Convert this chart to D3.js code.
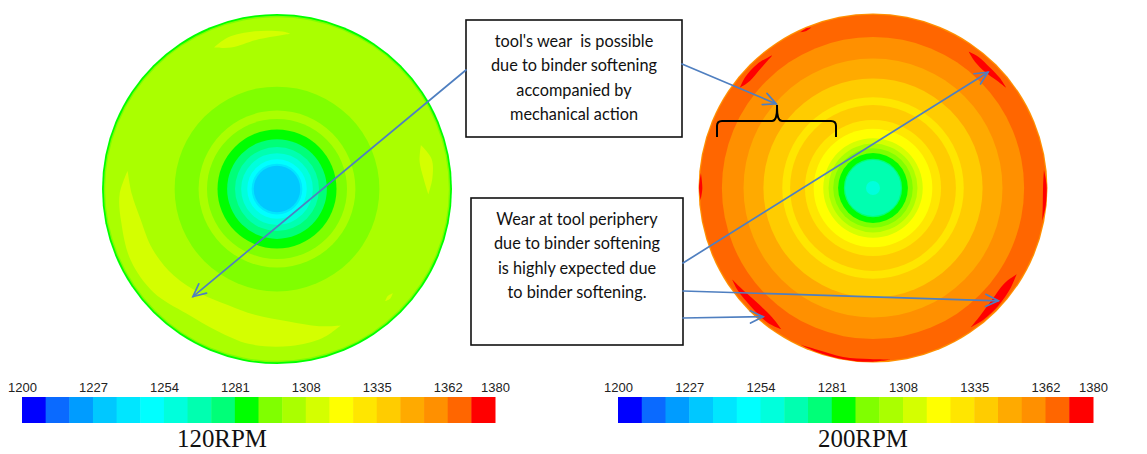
<!DOCTYPE html>
<html>
<head>
<meta charset="utf-8">
<script src="https://cdn.jsdelivr.net/npm/d3@7"></script>
<style>
  body { margin: 0; background: #fff; }
  svg { display: block; }
</style>
</head>
<body>
<div id="chart"></div>
<script>
// ---- data ---------------------------------------------------------------
const tempDomain = [1200, 1380];
const binColors = ["#0000ff", "#0a6aff", "#009cff", "#00c8ff", "#00e6ff",
                   "#00ffff", "#00ffdc", "#00ffb0", "#00ff78", "#00ff00",
                   "#80ff00", "#aaff00", "#d4ff00", "#ffff00", "#ffe600",
                   "#ffcc00", "#ffaa00", "#ff9000", "#ff6600", "#ff0000"];
const tickValues = [1200, 1227, 1254, 1281, 1308, 1335, 1362, 1380];
const rpmLabels = ["120RPM", "200RPM"];

// radial temperature bands, outer radius as a fraction of the tool radius
const leftRingRadius = [1.0, 0.99, 0.982, 0.585, 0.448, 0.40, 0.34, 0.285, 0.24, 0.205, 0.17, 0.145, 0.133];
const leftRingTemp   = [1285, 1295, 1303, 1295, 1303, 1295, 1285, 1276, 1267, 1258, 1250, 1240, 1232];
const rightRingRadius = [1.0, 0.993, 0.866, 0.742, 0.628, 0.52, 0.475, 0.39, 0.34, 0.285, 0.255, 0.228, 0.2, 0.167, 0.16, 0.04];
const rightRingTemp   = [1353, 1366, 1357, 1348, 1340, 1331, 1340, 1331, 1322, 1312, 1303, 1295, 1285, 1276, 1267, 1258];

// hot spots: [angle deg (clockwise from top), inner r, outer r]
const leftPatchTemp = 1312;
const leftPatches = [
  [[277, 0.86, 0.86], [268, 0.83, 0.9], [258, 0.8, 0.91], [244, 0.79, 0.93], [230, 0.77, 0.92],
   [216, 0.74, 0.88], [203, 0.72, 0.88], [190, 0.73, 0.9], [175, 0.76, 0.9], [163, 0.82, 0.89], [155, 0.86, 0.86]],
  [[336, 0.885, 0.885], [342, 0.85, 0.91], [352, 0.86, 0.91], [362, 0.88, 0.9], [365, 0.89, 0.89]],
  [[73, 0.86, 0.86], [79, 0.83, 0.9], [86, 0.84, 0.89], [92, 0.865, 0.865]],
  [[132, 0.89, 0.89], [134, 0.88, 0.9], [136, 0.89, 0.89]]
];
const rightPatchTemp = 1375;
const rightPatches = [
  [[307, 0.955, 0.955], [311, 0.935, 0.97], [317, 0.94, 0.972], [323, 0.955, 0.955]],
  [[335, 0.985, 0.985], [337, 0.978, 0.992], [339, 0.985, 0.985]],
  [[35, 0.955, 0.955], [39, 0.93, 0.965], [44, 0.925, 0.962], [49, 0.94, 0.962], [53, 0.955, 0.955]],
  [[84, 0.985, 0.985], [89, 0.975, 0.995], [96, 0.978, 0.995], [101, 0.988, 0.988]],
  [[121, 0.96, 0.96], [126, 0.93, 0.975], [133, 0.935, 0.985], [140, 0.955, 0.985], [145, 0.975, 0.975]],
  [[213, 0.965, 0.965], [218, 0.94, 0.98], [226, 0.935, 0.975], [233, 0.95, 0.972], [237, 0.962, 0.962]],
  [[174, 0.988, 0.988], [181, 0.98, 0.996], [190, 0.983, 0.996], [199, 0.98, 0.994], [205, 0.99, 0.99]],
  [[266, 0.99, 0.99], [270, 0.978, 0.997], [275, 0.99, 0.99]]
];

const noteTop = ["tool's wear  is possible", "due to binder softening", "accompanied by", "mechanical action"];
const noteBottom = ["Wear at tool periphery", "due to binder softening", "is highly expected due", "to binder softening."];

// arrows: start point on a note box, tip in polar coords of a tool disc
const arrows = [
  {from: [466, 70],  disc: 0, angle: 218,   r: 0.78},
  {from: [682, 64],  disc: 1, angle: 311,   r: 0.735},
  {from: [683, 263], disc: 1, angle: 44.8,  r: 0.935},
  {from: [683, 291], disc: 1, angle: 132,   r: 0.966},
  {from: [683, 318], disc: 1, angle: 220.5, r: 0.97}
];

// ---- layout ---------------------------------------------------------------
const W = 1147, H = 454;
const panels = [
  {cx: 277, cy: 189, R: 175,   bar: [22, 495],   labelX: 222,
   rings: d3.zip(leftRingRadius, leftRingTemp), patches: leftPatches, patchTemp: leftPatchTemp},
  {cx: 873, cy: 188, R: 174.5, bar: [618, 1093], labelX: 863,
   rings: d3.zip(rightRingRadius, rightRingTemp), patches: rightPatches, patchTemp: rightPatchTemp}
];
const barY = 397, barH = 26;

const color = d3.scaleQuantize().domain(tempDomain).range(binColors);
const binStep = (tempDomain[1] - tempDomain[0]) / binColors.length;

const svg = d3.select("#chart").append("svg")
  .attr("width", W)
  .attr("height", H);

const rad = d => d * Math.PI / 180;
function polar(p, angle, r) {
  return [p.cx + r * p.R * Math.sin(rad(angle)), p.cy - r * p.R * Math.cos(rad(angle))];
}

panels.forEach(function (p, i) {
  const g = svg.append("g").attr("transform", "translate(" + p.cx + "," + p.cy + ")");

  g.selectAll("circle.band")
    .data(p.rings)
    .enter().append("circle")
    .attr("class", "band")
    .attr("r", d => d[0] * p.R)
    .attr("fill", d => color(d[1]));

  const area = d3.areaRadial()
    .angle(d => rad(d[0]))
    .innerRadius(d => d[1] * p.R)
    .outerRadius(d => d[2] * p.R)
    .curve(d3.curveCatmullRom);

  g.selectAll("path.patch")
    .data(p.patches)
    .enter().append("path")
    .attr("class", "patch")
    .attr("d", area)
    .attr("fill", color(p.patchTemp));

  // colour bar
  const x = d3.scaleLinear().domain(tempDomain).range(p.bar);
  const bar = svg.append("g");
  bar.selectAll("rect")
    .data(binColors)
    .enter().append("rect")
    .attr("x", (d, k) => x(tempDomain[0] + k * binStep))
    .attr("y", barY)
    .attr("width", (d, k) => x(tempDomain[0] + (k + 1) * binStep) - x(tempDomain[0] + k * binStep) + 0.5)
    .attr("height", barH)
    .attr("fill", d => d);

  const axis = svg.append("g")
    .attr("transform", "translate(0," + barY + ")")
    .call(d3.axisTop(x).tickValues(tickValues).tickSize(0).tickPadding(5).tickFormat(d3.format("d")));
  axis.attr("font-family", "'Liberation Sans', Arial, sans-serif")
    .attr("font-size", 13);
  axis.select(".domain").remove();
  axis.selectAll("text")
    .style("font-size", "13px")
    .attr("fill", "#222");

  svg.append("text")
    .attr("x", p.labelX)
    .attr("y", 447)
    .attr("text-anchor", "middle")
    .attr("font-family", "'Liberation Serif', 'Times New Roman', serif")
    .attr("font-size", 26)
    .attr("textLength", 90)
    .attr("lengthAdjust", "spacingAndGlyphs")
    .attr("fill", "#111")
    .text(rpmLabels[i]);
});

// ---- annotations ---------------------------------------------------------
const notes = [
  {x: 466, y: 20, w: 216, h: 117, first: 47, lines: noteTop},
  {x: 471, y: 198, w: 212, h: 147, first: 225, lines: noteBottom}
];
notes.forEach(function (n) {
  svg.append("rect")
    .attr("x", n.x).attr("y", n.y)
    .attr("width", n.w).attr("height", n.h)
    .attr("fill", "#fff")
    .attr("stroke", "#111")
    .attr("stroke-width", 1.6);
  svg.append("g").selectAll("text")
    .data(n.lines)
    .enter().append("text")
    .attr("x", n.x + n.w / 2)
    .attr("y", (d, k) => n.first + k * 24.4)
    .attr("text-anchor", "middle")
    .attr("font-family", "Lato, 'Open Sans', sans-serif")
    .attr("font-size", 16.3)
    .attr("fill", "#111")
    .style("white-space", "pre")
    .text(d => d);
});

// curly brace over the outer bands of the right tool
(function () {
  const p = panels[1];
  const X = f => p.cx + f * p.R, Y = f => p.cy + f * p.R;
  const L = X(-0.894), Rt = X(-0.212), P = X(-0.55);
  const base = Y(-0.384), end = Y(-0.292), peak = Y(-0.476);
  const path = d3.path();
  path.moveTo(L, end);
  path.lineTo(L, base + 5);
  path.quadraticCurveTo(L, base, L + 5, base);
  path.lineTo(P - 5, base);
  path.quadraticCurveTo(P, base, P, peak + 3);
  path.lineTo(P, peak);
  path.moveTo(P, peak + 3);
  path.quadraticCurveTo(P, base, P + 5, base);
  path.lineTo(Rt - 5, base);
  path.quadraticCurveTo(Rt, base, Rt, base + 5);
  path.lineTo(Rt, end);
  svg.append("path")
    .attr("d", path.toString())
    .attr("fill", "none")
    .attr("stroke", "#000")
    .attr("stroke-width", 2);
})();

const arrowG = svg.append("g")
  .attr("stroke", "#4f7fc0")
  .attr("stroke-width", 1.7)
  .attr("fill", "none")
  .attr("stroke-linecap", "round");
arrows.forEach(function (a) {
  const [x1, y1] = a.from;
  const [x2, y2] = polar(panels[a.disc], a.angle, a.r);
  const t = Math.atan2(y2 - y1, x2 - x1), len = 14, s = 0.45;
  arrowG.append("line")
    .attr("x1", x1).attr("y1", y1)
    .attr("x2", x2).attr("y2", y2);
  arrowG.append("path")
    .attr("d", "M" + (x2 - len * Math.cos(t - s)) + "," + (y2 - len * Math.sin(t - s)) +
               "L" + x2 + "," + y2 +
               "L" + (x2 - len * Math.cos(t + s)) + "," + (y2 - len * Math.sin(t + s)));
});
</script>
</body>
</html>
